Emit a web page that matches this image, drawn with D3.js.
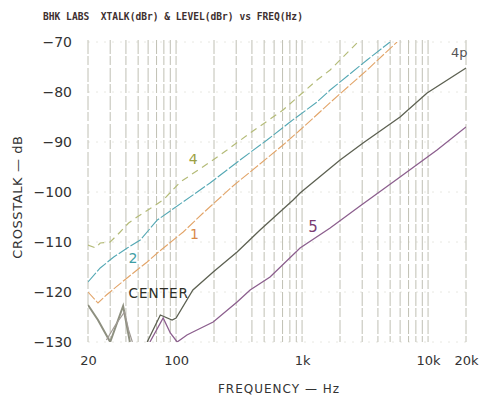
<!DOCTYPE html>
<html>
<head>
<meta charset="utf-8">
<script src="https://cdn.jsdelivr.net/npm/d3@7"></script>
<style>
    body { margin: 0; background: #fff; }
    .tick text { font-family: "DejaVu Sans", sans-serif; }
</style>
</head>
<body>
<script>
// crosstalk curves, [freq Hz, dB]
var curve4 = [[20, -110.6], [23, -111.2], [25, -110.2], [30, -110], [36, -108], [42, -106.2], [49, -105],
    [79, -101.6], [108, -98], [186, -94], [254, -91.6], [387, -88.2], [706, -83.6], [1315, -77.6], [1670, -75.6], [2780, -70]];
var curve2 = [[20, -118], [25, -115.2], [32, -113], [41, -111.2], [52, -109.6], [71, -105.6], [186, -98.2],
    [322, -93.6], [527, -89.6], [803, -86], [1315, -82], [1670, -79.6], [3280, -73.6], [4990, -70]];
var curve1 = [[20, -120], [24, -122.2], [28, -120.6], [39, -117.6], [49, -115.6], [59, -114], [71, -112.2],
    [114, -108], [164, -104.2], [283, -98.8], [706, -90.6], [964, -87.6], [1762, -81.6], [3280, -75.6], [5675, -70]];
var curveCenter = [[59, -130], [75, -124.6], [93, -125.6], [100, -125.2], [136, -119.6], [197, -116], [305, -112],
    [464, -107.6], [849, -101.6], [964, -100.2], [2003, -93.6], [3048, -90.2], [5995, -85], [9820, -80.2], [20000, -75.2]];
var curve5 = [[62, -130], [79, -125.2], [90, -128.2], [102, -130], [122, -128.6], [136, -128], [197, -126],
    [305, -122], [387, -119.6], [557, -117], [964, -111.2], [1670, -107.2], [2884, -102.8], [5995, -97],
    [11780, -91.6], [20000, -87]];
// noisy traces at the bottom left
var noiseA = [[20, -122.6], [24, -125.6], [30, -130], [38, -122.8], [43, -130]];
var noiseB = [[28, -129.6], [33, -126.6], [39, -124], [42, -127.6], [45, -130]];

var yTicks = [-70, -80, -90, -100, -110, -120, -130];
var xTicks = [20, 100, 1000, 10000, 20000];
var xTickLabels = ["20", "100", "1k", "10k", "20k"];
var gridFreqs = [20, 30, 40, 50, 60, 70, 80, 90, 100, 200, 300, 400, 500, 600, 700, 800, 900,
    1000, 2000, 3000, 4000, 5000, 6000, 7000, 8000, 9000, 10000, 20000];

(function () {

    var width = 480,
        height = 396;

    var svg = d3.select("body")
        .append("svg")
        .attr("width", width)
        .attr("height", height);

    var x = d3.scaleLog()
        .domain([20, 20000])
        .range([88, 466]);

    var y = d3.scaleLinear()
        .domain([-130, -70])
        .range([342, 42]);

    // title
    svg.append("text")
        .attr("x", 43)
        .attr("y", 20)
        .style("font-family", "'DejaVu Sans Mono', monospace")
        .style("font-size", "9.6px")
        .style("font-weight", "bold")
        .style("fill", "#3e3030")
        .attr("xml:space", "preserve")
        .text("BHK LABS  XTALK(dBr) & LEVEL(dBr) vs FREQ(Hz)");

    // grid
    svg.append("g")
        .selectAll("line")
        .data(yTicks)
        .enter()
        .append("line")
        .attr("x1", x(20))
        .attr("x2", x(20000))
        .attr("y1", function (d) { return y(d); })
        .attr("y2", function (d) { return y(d); })
        .style("stroke", "#e2e2da")
        .style("stroke-width", 0.8)
        .style("stroke-dasharray", "2,6");

    svg.append("g")
        .selectAll("line")
        .data(gridFreqs)
        .enter()
        .append("line")
        .attr("x1", function (d) { return x(d); })
        .attr("x2", function (d) { return x(d); })
        .attr("y1", y(-70) - 2)
        .attr("y2", y(-130))
        .style("stroke", "#b9b9ac")
        .style("stroke-width", 0.9)
        .style("stroke-dasharray", "14,2,9,3");

    // axes
    var yAxis = d3.axisLeft(y)
        .tickValues(yTicks)
        .tickSize(0)
        .tickPadding(0)
        .tickFormat(function (d) { return "\u2212" + Math.abs(d); });

    var gy = svg.append("g")
        .attr("transform", "translate(72,0)")
        .call(yAxis);
    gy.select(".domain").remove();
    gy.selectAll("text")
        .style("font-size", "14px")
        .style("fill", "#333");

    var xAxis = d3.axisBottom(x)
        .tickValues(xTicks)
        .tickSize(0)
        .tickPadding(0)
        .tickFormat(function (d, i) { return xTickLabels[i]; });

    var gx = svg.append("g")
        .attr("transform", "translate(0,356)")
        .call(xAxis);
    gx.select(".domain").remove();
    gx.selectAll("text")
        .style("font-size", "13px")
        .style("fill", "#333");

    svg.append("text")
        .attr("x", 279)
        .attr("y", 393)
        .attr("text-anchor", "middle")
        .style("font-family", "'DejaVu Sans', sans-serif")
        .style("font-size", "12px")
        .style("letter-spacing", "1px")
        .style("fill", "#333")
        .text("FREQUENCY \u2014 Hz");

    svg.append("text")
        .attr("transform", "translate(22,197) rotate(-90)")
        .attr("text-anchor", "middle")
        .style("font-family", "'DejaVu Sans', sans-serif")
        .style("font-size", "13px")
        .style("letter-spacing", "0.6px")
        .style("fill", "#333")
        .text("CROSSTALK \u2014 dB");

    // curves
    svg.append("clipPath")
        .attr("id", "plotClip")
        .append("rect")
        .attr("x", x(20))
        .attr("y", y(-70))
        .attr("width", x(20000) - x(20))
        .attr("height", y(-130) - y(-70));

    var line = d3.line()
        .x(function (d) { return x(d[0]); })
        .y(function (d) { return y(d[1]); });

    var curves = [
        { data: noiseA, color: "#8e9080", width: 2, dash: null },
        { data: noiseB, color: "#a09a94", width: 1.2, dash: null },
        { data: curve4, color: "#b4bb78", width: 1.2, dash: "7,5" },
        { data: curve2, color: "#54a8b4", width: 1.1, dash: "12,2" },
        { data: curve1, color: "#e2a468", width: 1.1, dash: "10,2" },
        { data: curveCenter, color: "#5d6152", width: 1.3, dash: null },
        { data: curve5, color: "#8c5f8e", width: 1.3, dash: null }
    ];

    svg.append("g")
        .attr("clip-path", "url(#plotClip)")
        .selectAll("path")
        .data(curves)
        .enter()
        .append("path")
        .attr("d", function (d) { return line(d.data); })
        .style("fill", "none")
        .style("stroke", function (d) { return d.color; })
        .style("stroke-width", function (d) { return d.width; })
        .style("stroke-dasharray", function (d) { return d.dash; });

    // curve labels
    var labels = [
        { t: "4", f: 126, db: -94.4, c: "#9ca044", s: 14 },
        { t: "2", f: 42, db: -114.2, c: "#3f9ea4", s: 14 },
        { t: "1", f: 129, db: -109.4, c: "#d98a4a", s: 14 },
        { t: "5", f: 1120, db: -108, c: "#7a3c72", s: 15 },
        { t: "CENTER", f: 42, db: -121.2, c: "#2e2e26", s: 13.5 },
        { t: "4p", f: 15200, db: -72.9, c: "#555", s: 13 }
    ];

    svg.append("g")
        .selectAll("text")
        .data(labels)
        .enter()
        .append("text")
        .attr("x", function (d) { return x(d.f); })
        .attr("y", function (d) { return y(d.db); })
        .style("font-family", "'DejaVu Sans', sans-serif")
        .style("font-size", function (d) { return d.s + "px"; })
        .style("letter-spacing", function (d) { return d.t == "CENTER" ? "1px" : "0px"; })
        .style("fill", function (d) { return d.c; })
        .text(function (d) { return d.t; });

})();
</script>
</body>
</html>
